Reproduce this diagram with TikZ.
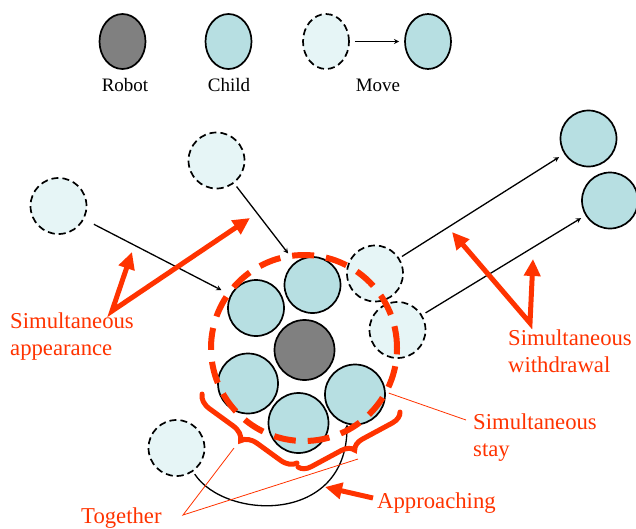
\documentclass[tikz,border=0pt]{standalone}
\usepackage{fontspec}
\setmainfont{Liberation Serif}
\usetikzlibrary{arrows.meta,shapes.geometric,decorations.pathreplacing}
\definecolor{redmark}{RGB}{255,51,0}
\definecolor{childblue}{RGB}{183,223,226}
\definecolor{ghostblue}{RGB}{230,245,246}
\definecolor{robotgray}{RGB}{128,128,128}
\begin{document}
\begin{tikzpicture}[x=1pt, y=-1pt, >=stealth,
    robot/.style={circle, draw, line width=1.7pt, fill=robotgray, inner sep=0pt, minimum size=60pt},
    child/.style={circle, draw, line width=1.7pt, fill=childblue, inner sep=0pt, minimum size=56pt},
    ghost/.style={child, dash pattern=on 7pt off 4pt, fill=ghostblue},
    legend/.style={ellipse, minimum width=46pt, minimum height=55pt},
    legendtext/.style={anchor=base, inner sep=0pt, font=\fontsize{19}{23}\selectfont},
    move/.style={->, line width=1.3pt, shorten <=5pt, shorten >=5pt},
    hint/.style={-{Triangle[length=17pt,width=16pt]}, line width=5pt, draw=redmark},
    hintv/.style={{Triangle[length=17pt,width=16pt]}-{Triangle[length=17pt,width=16pt]}, line width=5pt, draw=redmark, line join=miter},
    bracered/.style={draw=redmark, line width=5pt, line cap=round, decorate, decoration={brace, amplitude=#1}},
    callout/.style={draw=redmark, line width=0.8pt},
    redtext/.style={anchor=west, align=left, inner sep=0pt, text=redmark, font=\fontsize{22.7}{27}\selectfont}]

    \useasboundingbox (0,0) rectangle (636,528);

    % legend
    \node[robot, legend] (lrobot) at (122.5,41.5) {};
    \node[child, legend] (lchild) at (228.5,41.5) {};
    \node[ghost, legend] (lfrom) at (326,41.5) {};
    \node[child, legend] (lto) at (428,41.5) {};
    \draw[move] (lfrom) -- (lto);
    \node[legendtext] (trobot) at (125,91) {Robot};
    \node[legendtext] (tchild) at (229,91) {Child};
    \node[legendtext] (tmove) at (378,91) {Move};

    % children before / after
    \node[ghost] (g1) at (58.5,206) {};
    \node[ghost] (g2) at (216.5,160.5) {};
    \node[ghost] (g3) at (375,273.5) {};
    \node[ghost] (g4) at (397.5,330) {};
    \node[ghost] (g5) at (176.5,448) {};
    \node[child] (c6) at (588.5,138.5) {};
    \node[child] (c7) at (610,200.5) {};

    % group round the robot
    \node[child] (c1) at (256,308) {};
    \node[child] (c2) at (312.5,285) {};
    \node[robot] (r) at (304.5,350) {};
    \node[child, minimum size=60pt] (c3) at (248,383.5) {};
    \node[child, minimum size=60pt] (c4) at (298.5,423) {};
    \node[child, minimum size=60pt] (c5) at (355,394.5) {};

    % moves
    \draw[move, shorten <=11pt, shorten >=10pt] (g1) -- (c1);
    \draw[move, shorten <=4pt, shorten >=11pt] (g2) -- (c2);
    \draw[move, shorten <=3pt, shorten >=6pt] (g3) -- (c6);
    \draw[move, shorten <=4pt] (g4) -- (c7);
    \draw[move, shorten <=3pt, shorten >=0pt] (g5.-55) .. controls (225,520) and (347,525) .. (c5.-105);

    % marks
    \node[circle, draw=redmark, line width=6pt, dash pattern=on 22pt off 12pt,
        minimum size=186pt, inner sep=0pt] (group) at (304,348) {};
    \coordinate (b1a) at (297,463);
    \coordinate (b1b) at (202,394);
    \coordinate (b2a) at (400,412);
    \coordinate (b2b) at (298,467);
    \draw[bracered=15pt] (b1a) -- (b1b);
    \draw[bracered=12pt] (b2a) -- (b2b);

    % labels
    \node[redtext] (appear) at (10,337) {Simultaneous\\appearance};
    \node[redtext] (withdraw) at (508,351) {Simultaneous\\withdrawal};
    \node[redtext] (stay) at (473,438) {Simultaneous\\stay};
    \node[redtext, anchor=base west] (approach) at (377,508) {Approaching};
    \node[redtext, anchor=base west] (together) at (81,523) {Together};

    \coordinate (va) at (112,311);
    \coordinate (va1) at (250,218);
    \coordinate (va2) at (132,252);
    \draw[hintv] (va2) -- (va) -- (va1);
    \coordinate (vw) at (530,323);
    \coordinate (vw1) at (452,232);
    \coordinate (vw2) at (533,259);
    \draw[hintv] (vw1) -- (vw) -- (vw2);
    \coordinate (ap) at (373,498);
    \coordinate (ap1) at (325,487);
    \draw[hint] (ap) -- (ap1);

    \coordinate (st) at (466,420);
    \draw[callout] (group.-28) -- (st);
    \coordinate (tg) at (183,515);
    \coordinate (tg1) at (234,448);
    \coordinate (tg2) at (358,459);
    \draw[callout] (tg1) -- (tg) -- (tg2);

\end{tikzpicture}
\end{document}
